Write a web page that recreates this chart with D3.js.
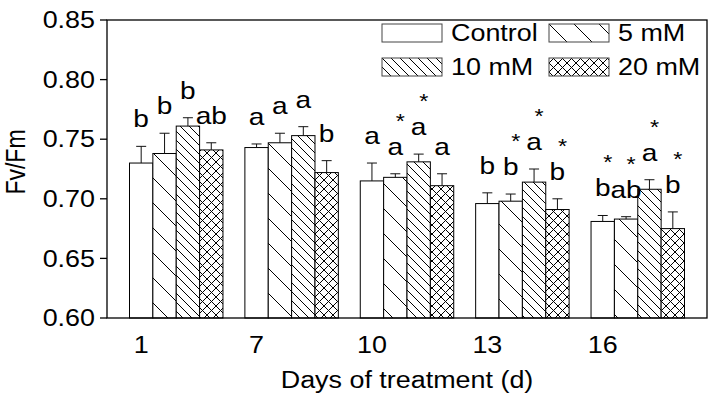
<!DOCTYPE html>
<html>
<head>
<meta charset="utf-8">
<script src="https://cdn.jsdelivr.net/npm/d3@7"></script>
<style>
  html, body { margin: 0; padding: 0; background: #fff; }
  svg { display: block; }
  text { font-family: "Liberation Sans", Arial, sans-serif; fill: #000; }
</style>
</head>
<body>
<svg id="chart" width="715" height="404"></svg>
<script>
// ---- data ----
const days = ["1", "7", "10", "13", "16"];
const seriesNames = ["Control", "5 mM", "10 mM", "20 mM"];
const controlVals = [0.730, 0.743, 0.715, 0.696, 0.681];
const mM5Vals     = [0.738, 0.747, 0.718, 0.698, 0.683];
const mM10Vals    = [0.761, 0.753, 0.731, 0.714, 0.708];
const mM20Vals    = [0.741, 0.722, 0.711, 0.691, 0.675];
const controlErr  = [0.014, 0.003, 0.015, 0.009, 0.005];
const mM5Err      = [0.017, 0.008, 0.003, 0.006, 0.002];
const mM10Err     = [0.007, 0.0075, 0.0065, 0.011, 0.008];
const mM20Err     = [0.006, 0.010, 0.010, 0.009, 0.014];
const controlLetters = ["b", "a", "a", "b", "b"];
const mM5Letters     = ["b", "a", "a", "b", "ab"];
const mM10Letters    = ["b", "a", "a", "a", "a"];
const mM20Letters    = ["ab", "b", "a", "b", "b"];
const controlStars = [false, false, false, false, true];
const mM5Stars     = [false, false, true, true, true];
const mM10Stars    = [false, false, true, true, true];
const mM20Stars    = [false, false, false, true, true];
const yTicks = [0.60, 0.65, 0.70, 0.75, 0.80, 0.85];
const yTitle = "Fv/Fm";
const xTitle = "Days of treatment (d)";

const seriesVals = [controlVals, mM5Vals, mM10Vals, mM20Vals];
const seriesErr = [controlErr, mM5Err, mM10Err, mM20Err];
const seriesLetters = [controlLetters, mM5Letters, mM10Letters, mM20Letters];
const seriesStars = [controlStars, mM5Stars, mM10Stars, mM20Stars];

// ---- layout ----
const W = 715, H = 404;
const m = { top: 20, right: 8, bottom: 86, left: 107 };
const SX = 1.17;          // horizontal text stretch of the original
const FS = 23;

const svg = d3.select("#chart");

// patterns
const defs = svg.append("defs");
function diagPattern(id, s, cross) {
  const p = defs.append("pattern").attr("id", id)
    .attr("patternUnits", "userSpaceOnUse").attr("width", s).attr("height", s);
  p.append("rect").attr("width", s).attr("height", s).attr("fill", "#fff");
  let d = `M0,0L${s},${s}M${-s/2},${s/2}L${s/2},${s*1.5}M${s/2},${-s/2}L${s*1.5},${s/2}`;
  if (cross) d += `M0,${s}L${s},0M${-s/2},${s/2}L${s/2},${-s/2}M${s/2},${s*1.5}L${s*1.5},${s/2}`;
  p.append("path").attr("d", d).attr("stroke", "#000").attr("stroke-width", 1).attr("fill", "none");
}
diagPattern("p5", 25, false);
diagPattern("p10", 9, false);
diagPattern("p20", 9, true);
const fills = ["#fff", "url(#p5)", "url(#p10)", "url(#p20)"];

const x0 = d3.scaleBand().domain(days).range([m.left, W - m.right])
  .paddingInner(0.19).paddingOuter(0.195);
const x1 = d3.scaleBand().domain(seriesNames).range([0, x0.bandwidth()]);
const y = d3.scaleLinear().domain([0.60, 0.85]).range([H - m.bottom, m.top]);

function txt(g, x, yy, str, anchor, size, rotate, dy) {
  return g.append("text")
    .attr("transform", `translate(${x},${yy}) scale(${SX},1)` + (rotate ? " rotate(-90)" : ""))
    .attr("text-anchor", anchor || "middle")
    .attr("dy", dy || null)
    .style("font-size", (size || FS) + "px")
    .text(str);
}

// bars
const gBars = svg.append("g");
seriesNames.forEach((s, si) => {
  days.forEach((d, di) => {
    const v = seriesVals[si][di];
    gBars.append("rect")
      .attr("x", x0(d) + x1(s))
      .attr("y", y(v))
      .attr("width", x1.bandwidth())
      .attr("height", y(0.60) - y(v))
      .attr("fill", fills[si])
      .attr("stroke", "#000")
      .attr("stroke-width", 1);
  });
});

// error bars + letters + stars
const gErr = svg.append("g").attr("stroke", "#111").attr("stroke-width", 1);
const gLab = svg.append("g");
seriesNames.forEach((s, si) => {
  days.forEach((d, di) => {
    const v = seriesVals[si][di], e = seriesErr[si][di];
    const cx = x0(d) + x1(s) + x1.bandwidth() / 2;
    gErr.append("line").attr("x1", cx).attr("x2", cx).attr("y1", y(v)).attr("y2", y(v + e));
    gErr.append("line").attr("x1", cx - 5).attr("x2", cx + 5).attr("y1", y(v + e)).attr("y2", y(v + e));
    const base = y(v + e) - 19;
    txt(gLab, cx, base, seriesLetters[si][di], "middle", 24);
    if (seriesStars[si][di]) txt(gLab, cx + 5, base - 27, "*", "middle", 20);
  });
});

// frame
const gAx = svg.append("g");
gAx.append("rect")
  .attr("x", m.left).attr("y", m.top)
  .attr("width", W - m.left - m.right).attr("height", H - m.top - m.bottom)
  .attr("fill", "none").attr("stroke", "#000").attr("stroke-width", 1.3);

// y axis ticks + labels
yTicks.forEach(t => {
  gAx.append("line").attr("x1", m.left - 7).attr("x2", m.left)
    .attr("y1", y(t)).attr("y2", y(t)).attr("stroke", "#000").attr("stroke-width", 1.3);
  txt(gAx, m.left - 12, y(t), d3.format(".2f")(t), "end", FS, false, "0.36em");
});

// x labels (under the Control bar of each group)
days.forEach(d => {
  const cx = x0(d) + x1(seriesNames[0]) + x1.bandwidth() / 2;
  txt(gAx, cx, H - m.bottom + 35, d, "middle", FS);
});

// titles
txt(gAx, (m.left + W - m.right) / 2, H - 16, xTitle, "middle", FS);
txt(gAx, 25, (m.top + H - m.bottom) / 2 - 7, yTitle, "middle", FS, true);

// legend
const gLeg = svg.append("g");
const legX = 382, legY = 24, colW = 167, rowH = 34;
seriesNames.forEach((s, i) => {
  const lx = legX + (i % 2) * colW, ly = legY + Math.floor(i / 2) * rowH;
  gLeg.append("rect").attr("x", lx).attr("y", ly).attr("width", 60).attr("height", 18)
    .attr("fill", fills[i]).attr("stroke", "#444").attr("stroke-width", 1);
  txt(gLeg, lx + 69, ly + 17, s, "start", FS);
});
</script>
</body>
</html>
